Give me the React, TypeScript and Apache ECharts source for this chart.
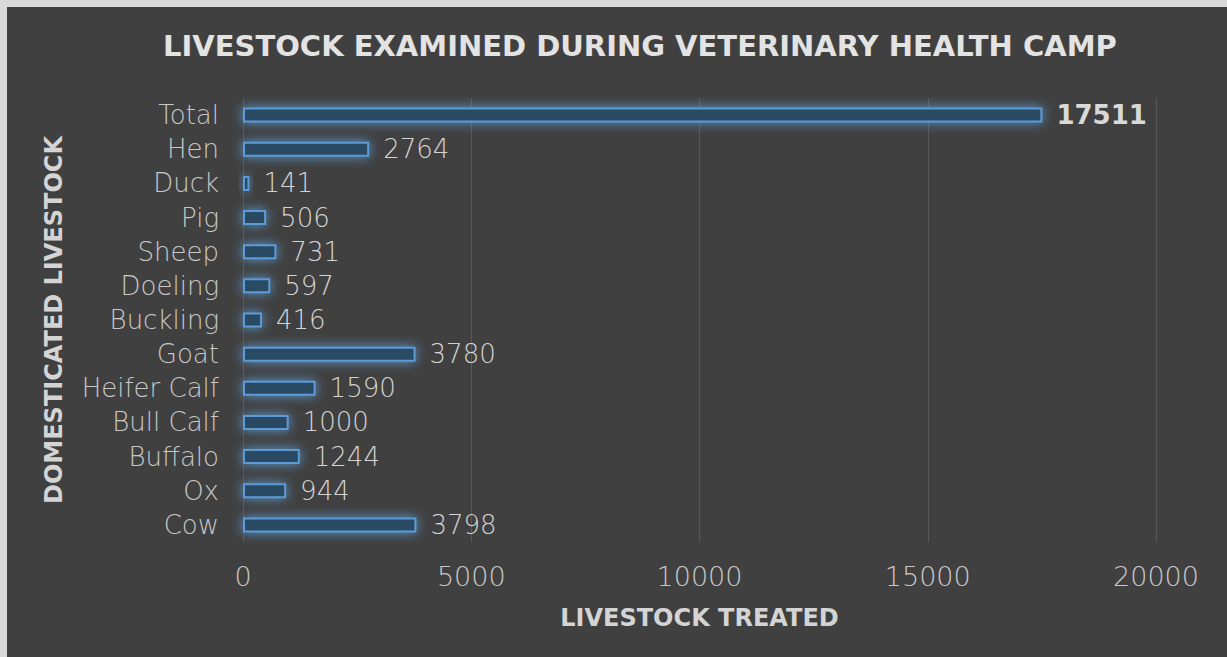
import React, { useEffect, useRef } from "react";
import * as echarts from "echarts";

const categories = ["Cow", "Ox", "Buffalo", "Bull Calf", "Heifer Calf", "Goat", "Buckling", "Doeling", "Sheep", "Pig", "Duck", "Hen", "Total"];
const values = [3798, 944, 1244, 1000, 1590, 3780, 416, 597, 731, 506, 141, 2764, 17511];
const xTicks = { min: 0, max: 20000, interval: 5000 };

const FONT = "'DejaVu Sans', sans-serif";

export default function App() {
  const ref = useRef<HTMLDivElement>(null);
  useEffect(() => {
    document.body.style.margin = "0";
    const chart = echarts.init(ref.current!, null, { renderer: "svg" });
    chart.setOption({
      animation: false,
      backgroundColor: "#404040",
      textStyle: { fontFamily: FONT },
      title: {
        text: "LIVESTOCK EXAMINED DURING VETERINARY HEALTH CAMP",
        left: 151,
        top: 19,
        textStyle: { color: "#e3e3e3", fontSize: 29, fontWeight: "bold", fontFamily: FONT },
      },
      grid: { left: 236, right: 71, top: 91, bottom: 115, containLabel: false },
      xAxis: {
        type: "value",
        min: xTicks.min,
        max: xTicks.max,
        interval: xTicks.interval,
        name: "LIVESTOCK TREATED",
        nameLocation: "middle",
        nameGap: 64,
        nameTextStyle: { color: "#d4d4d4", fontSize: 24, fontWeight: "bold", fontFamily: FONT },
        axisLine: { show: false },
        axisTick: { show: false },
        axisLabel: { color: "#c8c8c8", fontSize: 27, margin: 21, fontWeight: 200, fontFamily: FONT, formatter: (v: number) => String(v) },
        splitLine: { show: true, lineStyle: { color: "#585858", width: 1 } },
      },
      yAxis: {
        type: "category",
        data: categories,
        name: "DOMESTICATED LIVESTOCK",
        nameLocation: "middle",
        nameGap: 177,
        nameRotate: 90,
        nameTextStyle: { color: "#d4d4d4", fontSize: 24, fontWeight: "bold", fontFamily: FONT },
        axisLine: { show: false },
        axisTick: { show: false },
        axisLabel: { color: "#c8c8c8", fontSize: 26, margin: 24, fontWeight: 200, fontFamily: FONT },
      },
      series: [
        {
          type: "bar",
          data: values.map((v, i) => ({
            value: v,
            label: i === values.length - 1 ? { fontWeight: "bold", color: "#d9d9d9" } : undefined,
          })),
          barWidth: 15,
          itemStyle: {
            color: "#2c4864",
            borderColor: "#5b9bd5",
            borderWidth: 2,
            shadowBlur: 12,
            shadowColor: "rgba(91,155,213,1)",
          },
          label: {
            show: true,
            position: "right",
            distance: 14,
            color: "#d4d4d4",
            fontSize: 26,
            fontWeight: 200,
            fontFamily: FONT,
          },
        },
      ],
    });
    return () => chart.dispose();
  }, []);
  return (
    <div style={{ position: "fixed", left: 0, top: 0, width: 1227, height: 657, background: "#d9d9d9" }}>
      <div ref={ref} style={{ position: "absolute", left: 7, top: 7, width: 1220, height: 650 }} />
    </div>
  );
}
